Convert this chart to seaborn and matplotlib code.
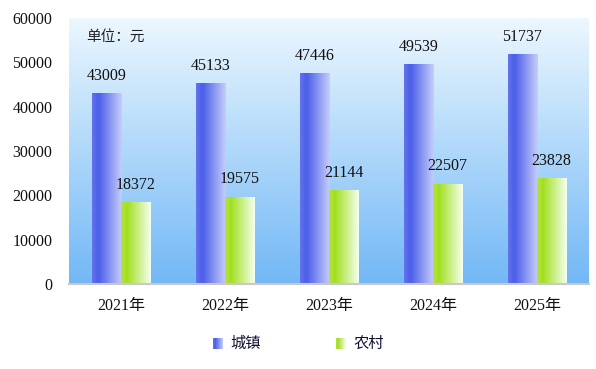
import numpy as np
import pandas as pd
import matplotlib
matplotlib.use("Agg")
import matplotlib.pyplot as plt
from matplotlib.colors import LinearSegmentedColormap
import seaborn as sns

years = ["2021年", "2022年", "2023年", "2024年", "2025年"]
urban = [43009, 45133, 47446, 49539, 51737]
rural = [18372, 19575, 21144, 22507, 23828]
series_names = ["城镇", "农村"]
yticks = [0, 10000, 20000, 30000, 40000, 50000, 60000]
unit_text = "单位：元"

sns.set_theme(style="white")
plt.rcParams["font.family"] = ["Liberation Serif", "Noto Sans CJK SC", "DejaVu Sans"]

df = pd.DataFrame({
    "year": years * 2,
    "value": urban + rural,
    "type": [series_names[0]] * len(years) + [series_names[1]] * len(years),
})

W, H = 596, 369
fig = plt.figure(figsize=(W / 100, H / 100), dpi=100)
ax = fig.add_axes([69 / W, 85 / H, 520 / W, 266 / H])

cmap_blue = LinearSegmentedColormap.from_list(
    "b", [(0, "#6474ec"), (0.22, "#4a5ee8"), (1, "#c6cdfb")])
cmap_green = LinearSegmentedColormap.from_list(
    "g", [(0, "#b6e244"), (0.2, "#a2e020"), (1, "#f6fff2")])
cmap_bg = LinearSegmentedColormap.from_list(
    "bg", [(0, "#72b8f6"), (1, "#ecf7fe")])

sns.barplot(data=df, x="year", y="value", hue="type", hue_order=series_names,
            order=years, width=0.56, palette=["#5566e8", "#a8e030"],
            legend=False, ax=ax, zorder=2, saturation=1)

ax.set_xlim(-0.5, len(years) - 0.5)
ax.set_ylim(0, 60000)

# background gradient
grad_v = np.linspace(0, 1, 256).reshape(-1, 1)
ax.imshow(grad_v, cmap=cmap_bg, origin="lower", aspect="auto",
          extent=[0, 1, 0, 1], transform=ax.transAxes, zorder=0)

grad_h = np.linspace(0, 1, 256).reshape(1, -1)
for cont, cm in zip(ax.containers, [cmap_blue, cmap_green]):
    for p in cont.patches:
        x0, y0 = p.get_x(), p.get_y()
        w, h = p.get_width(), p.get_height()
        im = ax.imshow(grad_h, cmap=cm, aspect="auto",
                       extent=[x0, x0 + w, y0, y0 + h], zorder=2)
        p.set_facecolor("none")
        p.set_edgecolor("none")
    ax.bar_label(cont, labels=[f"{int(v)}" for v in cont.datavalues],
                 padding=7, fontsize=11.5, color="#111111",
                 family=["Liberation Serif"])

ax.set_xlim(-0.5, len(years) - 0.5)
ax.set_ylim(0, 60000)
ax.set_yticks(yticks)
ax.set_yticklabels([str(v) for v in yticks])
ax.set_xlabel("")
ax.set_ylabel("")
ax.tick_params(axis="y", length=0, pad=12, labelsize=11.5, labelcolor="#111111")
ax.tick_params(axis="x", length=0, pad=10, labelsize=11.5, labelcolor="#111111")
for s in ["left", "right", "top"]:
    ax.spines[s].set_visible(False)
ax.spines["bottom"].set_color("#c8c8c8")
ax.spines["bottom"].set_linewidth(1.5)
ax.spines["bottom"].set_zorder(3)
ax.grid(False)

ax.text(17 / 520, 1 - 19 / 266, unit_text, transform=ax.transAxes,
        fontsize=10.5, va="center", ha="left", color="#222222",
        family=["Noto Sans CJK SC"])

# legend
for xpx, cm, name in [(213, cmap_blue, series_names[0]), (336, cmap_green, series_names[1])]:
    lax = fig.add_axes([xpx / W, (H - 349) / H, 10 / W, 11 / H])
    lax.imshow(grad_h, cmap=cm, aspect="auto")
    lax.set_axis_off()
    fig.text((xpx + 17) / W, (H - 343.5) / H, name, fontsize=11, va="center",
             ha="left", color="#111133", family=["Noto Sans CJK SC"])

fig.savefig("out.png", dpi=100)
